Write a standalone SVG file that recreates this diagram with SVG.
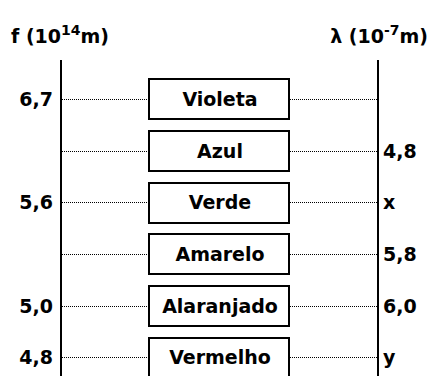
<svg xmlns="http://www.w3.org/2000/svg" width="431" height="376" viewBox="0 0 431 376">
<style>
text{font-family:"DejaVu Sans","Liberation Sans",sans-serif;font-weight:bold;font-size:19px;fill:#000}
.box{fill:#fff;stroke:#000;stroke-width:2}
.axis{stroke:#000;stroke-width:2}
.dot{stroke:#000;stroke-width:1;stroke-dasharray:1 1}
.sup{font-size:14px}
.lbl{text-anchor:middle}
.l{text-anchor:end}
</style>
<rect width="431" height="376" fill="#fff"/>
<g id="headers">
<text x="11" y="43">f (10<tspan class="sup" dy="-8">14</tspan><tspan dy="8">m)</tspan></text>
<text x="428" y="43" text-anchor="end">λ (10<tspan class="sup" dy="-8">-7</tspan><tspan dy="8">m)</tspan></text>
</g>
<g id="axes">
<line class="axis" x1="61" y1="60" x2="61" y2="376"/>
<line class="axis" x1="378" y1="60" x2="378" y2="376"/>
</g>
<g id="connectors">
<line class="dot" x1="62" y1="99.5" x2="148" y2="99.5"/>
<line class="dot" x1="290" y1="99.5" x2="377" y2="99.5"/>
<line class="dot" x1="62" y1="151.5" x2="148" y2="151.5"/>
<line class="dot" x1="290" y1="151.5" x2="377" y2="151.5"/>
<line class="dot" x1="62" y1="202.5" x2="148" y2="202.5"/>
<line class="dot" x1="290" y1="202.5" x2="377" y2="202.5"/>
<line class="dot" x1="62" y1="254.5" x2="148" y2="254.5"/>
<line class="dot" x1="290" y1="254.5" x2="377" y2="254.5"/>
<line class="dot" x1="62" y1="306.5" x2="148" y2="306.5"/>
<line class="dot" x1="290" y1="306.5" x2="377" y2="306.5"/>
<line class="dot" x1="62" y1="357.5" x2="148" y2="357.5"/>
<line class="dot" x1="290" y1="357.5" x2="377" y2="357.5"/>
</g>
<g id="violeta"><rect class="box" x="149" y="79" width="140" height="40"/><text class="lbl" x="220" y="106">Violeta</text></g>
<g id="azul"><rect class="box" x="149" y="131" width="140" height="40"/><text class="lbl" x="220" y="158">Azul</text></g>
<g id="verde"><rect class="box" x="149" y="183" width="140" height="40"/><text class="lbl" x="220" y="209">Verde</text></g>
<g id="amarelo"><rect class="box" x="149" y="234" width="140" height="40"/><text class="lbl" x="220" y="261">Amarelo</text></g>
<g id="alaranjado"><rect class="box" x="149" y="286" width="140" height="40"/><text class="lbl" x="220" y="313">Alaranjado</text></g>
<g id="vermelho"><rect class="box" x="149" y="338" width="140" height="40"/><text class="lbl" x="220" y="364">Vermelho</text></g>
<g id="freq-labels">
<text class="l" x="53" y="106">6,7</text>
<text class="l" x="53" y="209">5,6</text>
<text class="l" x="53" y="313">5,0</text>
<text class="l" x="53" y="364">4,8</text>
</g>
<g id="lambda-labels">
<text x="383" y="158">4,8</text>
<text x="383" y="209">x</text>
<text x="383" y="261">5,8</text>
<text x="383" y="313">6,0</text>
<text x="383" y="364">y</text>
</g>
</svg>
